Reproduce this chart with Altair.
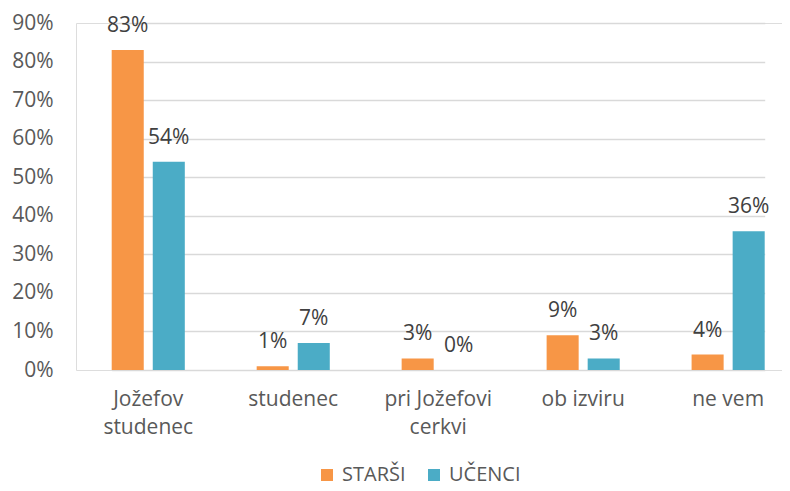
import altair as alt
import pandas as pd

categories = ["Jožefov\nstudenec", "studenec", "pri Jožefovi\ncerkvi", "ob izviru", "ne vem"]
series = ["STARŠI", "UČENCI"]
starsi = [83, 1, 3, 9, 4]
ucenci = [54, 7, 0, 3, 36]
colors = ["#F79646", "#4BACC6"]

rows = []
for i, c in enumerate(categories):
    rows.append({"cat": c, "series": series[0], "value": starsi[i], "order": 0})
    rows.append({"cat": c, "series": series[1], "value": ucenci[i], "order": 1})
df = pd.DataFrame(rows)
df["label"] = df["value"].astype(str) + "%"

FONT = "Open Sans"
FS = 21

x = alt.X("cat:N", sort=categories, title=None,
          scale=alt.Scale(paddingInner=0.4957, paddingOuter=0, range=[35.7, 688.7]),
          axis=alt.Axis(labelExpr="split(datum.value, '\\n')", labelAngle=0,
                        labelFontSize=FS, labelColor="#595959", labelFont=FONT,
                        labelPadding=18, labelLineHeight=28, domain=False, ticks=False,
                        labelBaseline="top"))
xo = alt.XOffset("series:N", sort=series, scale=alt.Scale(paddingInner=9 / 41, paddingOuter=0))
y = alt.Y("value:Q", title=None,
          scale=alt.Scale(domain=[0, 90], nice=False),
          axis=alt.Axis(values=list(range(0, 91, 10)), labelExpr="datum.value + '%'",
                        labelFontSize=FS, labelColor="#595959", labelFont=FONT,
                        labelPadding=23, domain=False, ticks=False,
                        gridColor="#d9d9d9", gridWidth=1.3))

bars = alt.Chart(df).mark_bar().encode(
    x=x, xOffset=xo, y=y,
    color=alt.Color("series:N", sort=series, title=None,
                    scale=alt.Scale(domain=series, range=colors),
                    legend=alt.Legend(orient="none", direction="horizontal",
                                      legendX=241, legendY=442,
                                      symbolType="square", symbolSize=144,
                                      symbolStrokeWidth=0,
                                      labelFontSize=20, labelColor="#595959",
                                      labelFont=FONT, columnPadding=18,
                                      symbolOffset=0, labelOffset=5)),
)
labels = alt.Chart(df).mark_text(baseline="alphabetic", dy=-18, fontSize=FS,
                                 color="#404040", font=FONT).encode(
    x=x, xOffset=xo, y=y, text="label:N")

chart = (bars + labels).properties(
    width=706, height=347,
    autosize=alt.AutoSizeParams(type="none"),
    padding={"left": 68, "top": 15, "right": 0, "bottom": 113},
).configure_view(stroke=None).configure(background="white")

chart.save("out.html", embed_options={"renderer": "svg", "actions": False})
